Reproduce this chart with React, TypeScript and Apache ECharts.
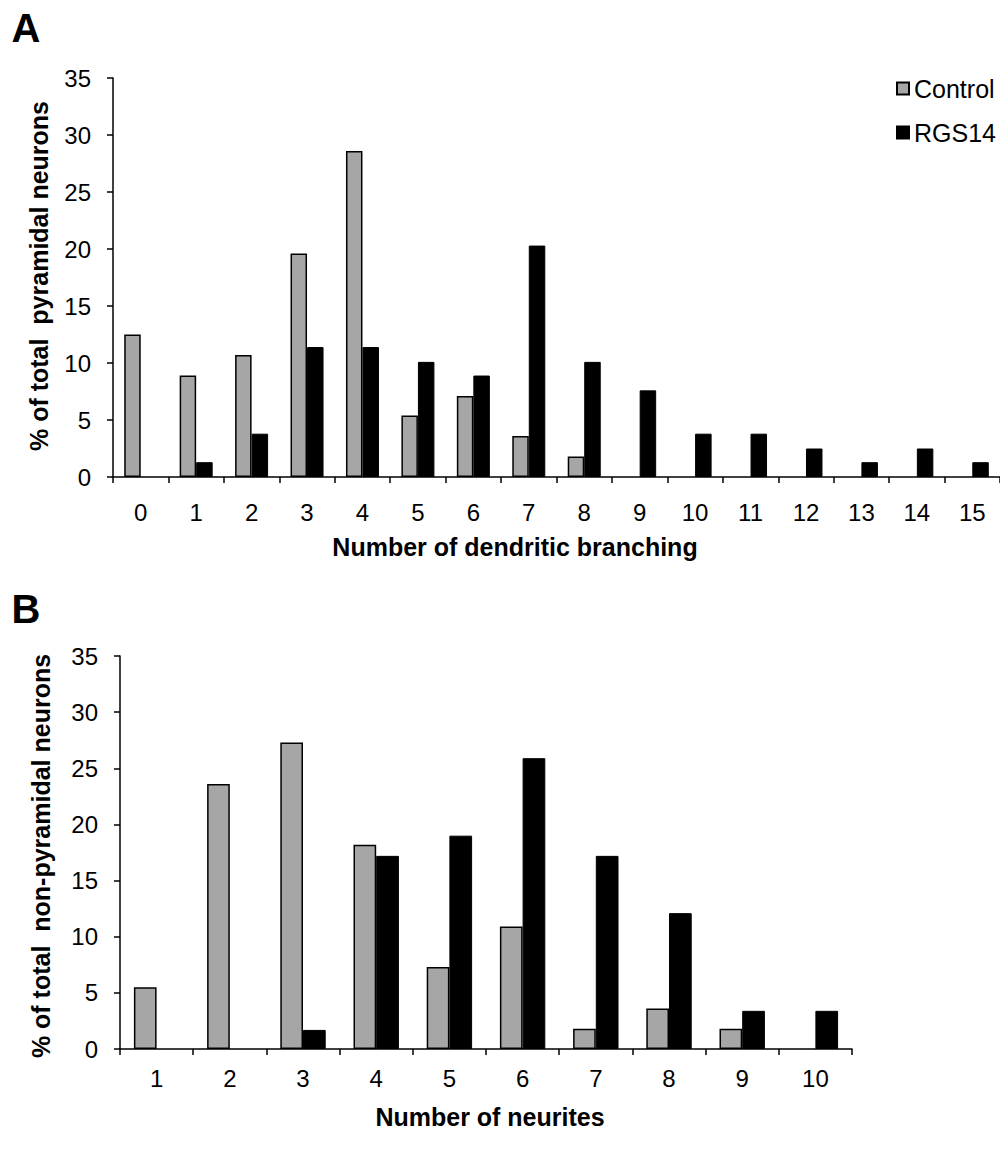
import React, { useEffect, useRef } from "react";
import * as echarts from "echarts";

const branchCategories = ["0", "1", "2", "3", "4", "5", "6", "7", "8", "9", "10", "11", "12", "13", "14", "15"];
const branchControl = [12.5, 8.9, 10.7, 19.6, 28.6, 5.4, 7.1, 3.6, 1.8, 0, 0, 0, 0, 0, 0, 0];
const branchRGS14 = [0, 1.3, 3.8, 11.4, 11.4, 10.1, 8.9, 20.3, 10.1, 7.6, 3.8, 3.8, 2.5, 1.3, 2.5, 1.3];

const neuriteCategories = ["1", "2", "3", "4", "5", "6", "7", "8", "9", "10"];
const neuriteControl = [5.5, 23.6, 27.3, 18.2, 7.3, 10.9, 1.8, 3.6, 1.8, 0];
const neuriteRGS14 = [0, 0, 1.7, 17.2, 19.0, 25.9, 17.2, 12.1, 3.4, 3.4];

const yMin = 0;
const yMax = 35;
const yInterval = 5;

const FONT = "'Liberation Sans', Arial, Helvetica, sans-serif";
const GRAY = "#a6a6a6";

// zero-height bars are left out so their outline does not thicken the axis
const bars = (values: number[]) => values.map((v) => (v === 0 ? null : v));

export default function App() {
  const ref = useRef<HTMLDivElement>(null);

  useEffect(() => {
    if (!ref.current) return;
    const chart = echarts.init(ref.current, undefined, { renderer: "svg" });

    const axisLine = { show: true, lineStyle: { color: "#000", width: 1.5 } };
    const tick = { show: true, inside: false, length: 6, lineStyle: { color: "#000", width: 1.5 } };

    const yAxisBase = (gridIndex: number, margin: number) => ({
      type: "value",
      gridIndex,
      min: yMin,
      max: yMax,
      interval: yInterval,
      axisLine,
      axisTick: tick,
      splitLine: { show: false },
      axisLabel: { color: "#000", fontSize: 24, fontFamily: FONT, margin },
    });

    const xAxisBase = (gridIndex: number, data: string[], margin: number) => ({
      type: "category",
      gridIndex,
      data,
      boundaryGap: true,
      axisLine,
      axisTick: { ...tick, interval: 0, alignWithLabel: false },
      axisLabel: { color: "#000", fontSize: 24, fontFamily: FONT, margin, interval: 0 },
    });

    const controlStyle = { color: GRAY, borderColor: "#000", borderWidth: 1.5 };
    const rgsStyle = { color: "#000", borderColor: "#000", borderWidth: 1 };

    const titleStyle = (text: string) => ({
      text,
      fontSize: 25,
      fontWeight: "bold",
      fontFamily: FONT,
      fill: "#000",
      align: "center",
      verticalAlign: "middle",
      textAlign: "center",
      textVerticalAlign: "middle",
    });

    chart.setOption({
      animation: false,
      backgroundColor: "#fff",
      legend: {
        data: ["Control", "RGS14"],
        orient: "vertical",
        left: 891,
        top: 71,
        itemWidth: 12,
        itemHeight: 12,
        itemGap: 19,
        icon: "rect",
        textStyle: { color: "#000", fontSize: 25, fontFamily: FONT, lineHeight: 25 },
      },
      grid: [
        { left: 113, top: 78, width: 892, height: 399 },
        { left: 120, top: 656, width: 732, height: 393 },
      ],
      xAxis: [xAxisBase(0, branchCategories, 23), xAxisBase(1, neuriteCategories, 17)],
      yAxis: [yAxisBase(0, 22), yAxisBase(1, 22)],
      series: [
        { name: "Control", type: "bar", xAxisIndex: 0, yAxisIndex: 0, data: bars(branchControl), barWidth: 16.5, barGap: "0%", itemStyle: controlStyle },
        { name: "RGS14", type: "bar", xAxisIndex: 0, yAxisIndex: 0, data: bars(branchRGS14), barWidth: 16.5, barGap: "0%", itemStyle: rgsStyle },
        { name: "Control", type: "bar", xAxisIndex: 1, yAxisIndex: 1, data: bars(neuriteControl), barWidth: 22.7, barGap: "0%", itemStyle: controlStyle },
        { name: "RGS14", type: "bar", xAxisIndex: 1, yAxisIndex: 1, data: bars(neuriteRGS14), barWidth: 22.7, barGap: "0%", itemStyle: rgsStyle },
      ],
      graphic: [
        { type: "text", x: 26, y: 28, style: { ...titleStyle("A"), fontSize: 40 } },
        { type: "text", x: 26, y: 609, style: { ...titleStyle("B"), fontSize: 40 } },
        { type: "text", x: 515, y: 547, style: titleStyle("Number of dendritic branching") },
        { type: "text", x: 490, y: 1117, style: titleStyle("Number of neurites") },
        { type: "text", x: 39, y: 276, rotation: Math.PI / 2, style: titleStyle("% of total  pyramidal neurons") },
        { type: "text", x: 41, y: 856, rotation: Math.PI / 2, style: titleStyle("% of total  non-pyramidal neurons") },
      ],
    });

    return () => chart.dispose();
  }, []);

  return (
    <div
      ref={ref}
      style={{ position: "absolute", left: 0, top: 0, width: 1000, height: 1162, background: "#fff" }}
    />
  );
}
